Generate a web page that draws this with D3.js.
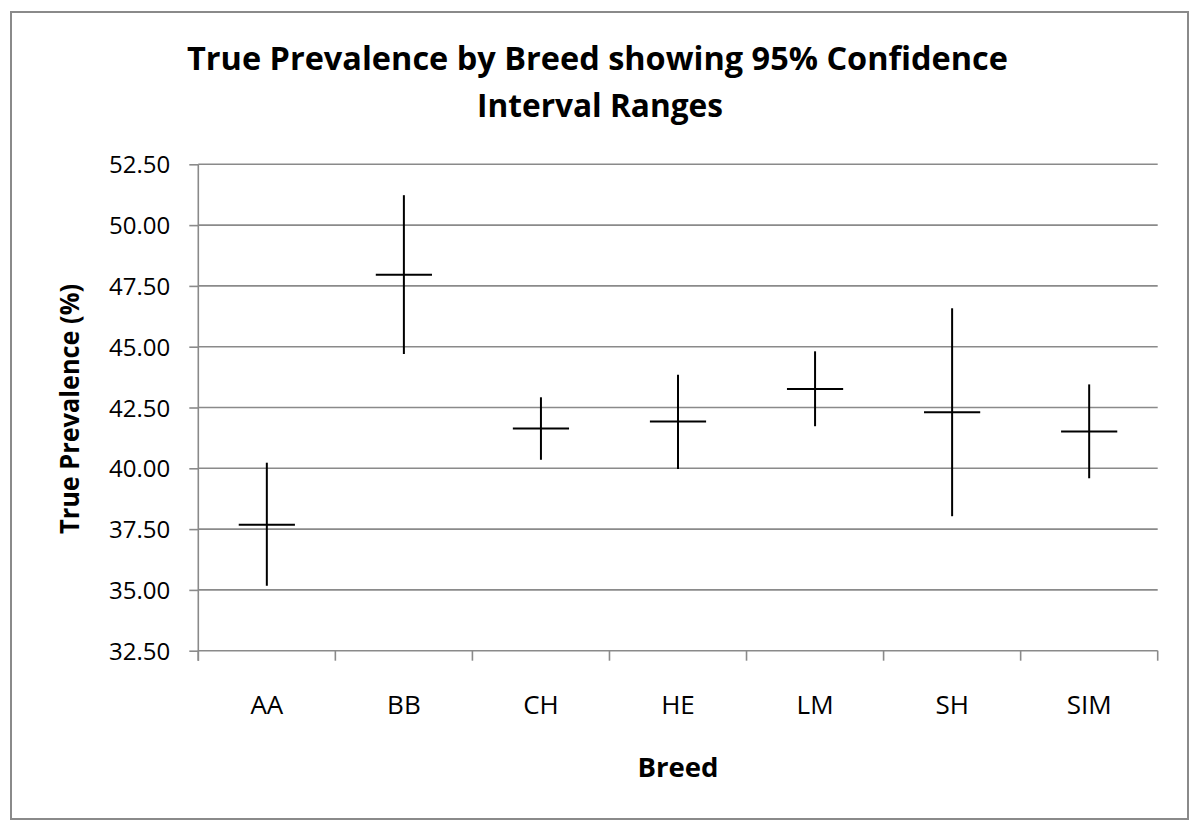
<!DOCTYPE html>
<html>
<head>
<meta charset="utf-8">
<script src="https://cdn.jsdelivr.net/npm/d3@7"></script>
<style>
  html, body { margin: 0; padding: 0; background: #fff; }
  svg { display: block; font-family: "Open Sans", "DejaVu Sans", sans-serif; }
</style>
</head>
<body>
<svg id="chart" width="1200" height="833"></svg>
<script>
// ---- data ----
const categories = ["AA", "BB", "CH", "HE", "LM", "SH", "SIM"];
const prevalence = [37.68, 47.96, 41.64, 41.92, 43.26, 42.30, 41.51];
const lowerCI    = [35.17, 44.70, 40.35, 39.97, 41.73, 38.03, 39.59];
const upperCI    = [40.23, 51.23, 42.92, 43.85, 44.81, 46.58, 43.45];
const yTicks = [32.5, 35, 37.5, 40, 42.5, 45, 47.5, 50, 52.5];
const titleLines = ["True Prevalence by Breed showing 95% Confidence", "Interval Ranges"];
const xTitle = "Breed";
const yTitle = "True Prevalence (%)";

// ---- layout ----
const svg = d3.select("#chart");
const plot = { left: 198.3, right: 1157.7, top: 164.3, bottom: 650.7 };
const gridColor = "#8a8a8a";

// outer frame
svg.append("rect")
  .attr("x", 11).attr("y", 12).attr("width", 1177).attr("height", 807)
  .attr("fill", "#fff").attr("stroke", gridColor).attr("stroke-width", 2);

const x = d3.scaleBand().domain(categories).range([plot.left, plot.right]).padding(0);
const y = d3.scaleLinear().domain([32.5, 52.5]).range([plot.bottom, plot.top]);

// gridlines
svg.append("g").selectAll("line").data(yTicks.slice(1)).join("line")
  .attr("x1", plot.left).attr("x2", plot.right)
  .attr("y1", d => y(d)).attr("y2", d => y(d))
  .attr("stroke", gridColor).attr("stroke-width", 1.6);

// y axis
const yAxis = svg.append("g")
  .attr("transform", `translate(${plot.left},0)`)
  .call(d3.axisLeft(y).tickValues(yTicks).tickFormat(d3.format(".2f")).tickSize(9).tickPadding(19));
yAxis.select(".domain").attr("stroke", gridColor).attr("stroke-width", 1.6).attr("d", `M0,${plot.top}V${plot.bottom + 10}`);
yAxis.selectAll(".tick line").attr("stroke", gridColor).attr("stroke-width", 1.6);
yAxis.selectAll(".tick text").attr("font-size", 24).attr("fill", "#000")
  .attr("font-family", "'Open Sans', sans-serif").attr("dy", "0.36em");

// x axis
const xAxis = svg.append("g")
  .attr("transform", `translate(0,${plot.bottom})`)
  .call(d3.axisBottom(x).tickSize(0).tickPadding(0));
xAxis.select(".domain").attr("stroke", gridColor).attr("stroke-width", 1.6).attr("d", `M${plot.left},0H${plot.right}`);
xAxis.selectAll(".tick text").attr("font-size", 26).attr("fill", "#000")
  .attr("font-family", "'Open Sans', sans-serif").attr("y", 63).attr("dy", 0);
// category boundary ticks
const boundaries = categories.map(c => x(c)).concat([x(categories[categories.length - 1]) + x.bandwidth()]);
svg.append("g").selectAll("line").data(boundaries).join("line")
  .attr("x1", d => d).attr("x2", d => d)
  .attr("y1", plot.bottom).attr("y2", plot.bottom + 10)
  .attr("stroke", gridColor).attr("stroke-width", 1.6);

// error bars
const idx = d3.range(categories.length);
const cx = i => x(categories[i]) + x.bandwidth() / 2;
const half = x.bandwidth() * 0.205;
const marks = svg.append("g").attr("stroke", "#000").attr("stroke-width", 2);
marks.selectAll("line.v").data(idx).join("line").attr("class", "v")
  .attr("x1", cx).attr("x2", cx)
  .attr("y1", i => y(upperCI[i])).attr("y2", i => y(lowerCI[i]));
marks.selectAll("line.h").data(idx).join("line").attr("class", "h")
  .attr("x1", i => cx(i) - half).attr("x2", i => cx(i) + half)
  .attr("y1", i => y(prevalence[i])).attr("y2", i => y(prevalence[i]));

// titles
const t1 = svg.append("text").attr("x", 597.5).attr("y", 70).attr("text-anchor", "middle")
  .attr("font-weight", "bold").attr("font-size", 32)
  .attr("textLength", 821).attr("lengthAdjust", "spacingAndGlyphs").text(titleLines[0]);
const t2 = svg.append("text").attr("x", 600).attr("y", 117).attr("text-anchor", "middle")
  .attr("font-weight", "bold").attr("font-size", 32)
  .attr("textLength", 246).attr("lengthAdjust", "spacingAndGlyphs").text(titleLines[1]);

svg.append("text").attr("x", 678).attr("y", 777).attr("text-anchor", "middle")
  .attr("font-weight", "bold").attr("font-size", 27)
  .attr("textLength", 81).attr("lengthAdjust", "spacingAndGlyphs").text(xTitle);

svg.append("text").attr("transform", "translate(79,409) rotate(-90)").attr("text-anchor", "middle")
  .attr("font-weight", "bold").attr("font-size", 27)
  .attr("textLength", 250).attr("lengthAdjust", "spacingAndGlyphs").text(yTitle);
</script>
</body>
</html>
